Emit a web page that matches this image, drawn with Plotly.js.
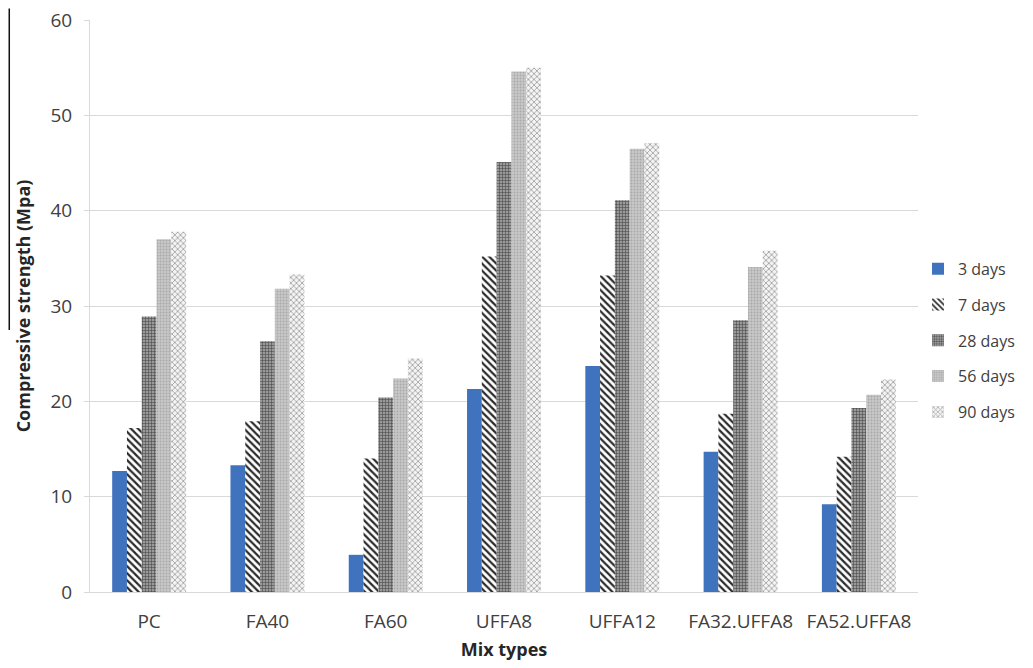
<!DOCTYPE html>
<html>
<head>
<meta charset="utf-8">
<script src="https://cdn.plot.ly/plotly-3.0.1.min.js"></script>
<style>
  html, body { margin: 0; padding: 0; background: #fff; }
  #chart { width: 1033px; height: 668px; }
</style>
</head>
<body>
<div id="chart"></div>
<script>
// Compressive strength (MPa) of each mix at five curing ages
const mixTypes = ["PC", "FA40", "FA60", "UFFA8", "UFFA12", "FA32.UFFA8", "FA52.UFFA8"];
const days3  = [12.7, 13.3, 3.9, 21.3, 23.7, 14.7, 9.2];
const days7  = [17.2, 17.9, 14.0, 35.2, 33.2, 18.7, 14.2];
const days28 = [28.9, 26.3, 20.4, 45.1, 41.1, 28.5, 19.3];
const days56 = [37.0, 31.8, 22.4, 54.6, 46.5, 34.1, 20.7];
const days90 = [37.8, 33.3, 24.5, 55.0, 47.1, 35.8, 22.3];
const seriesNames = ["3 days", "7 days", "28 days", "56 days", "90 days"];

const series = [days3, days7, days28, days56, days90];

// Fill style per curing age: solid blue, then hatched / textured greys
const fills = [
  { color: "#3f73bd", pattern: { shape: "" } },
  { color: "#ffffff", pattern: { shape: "\\", fgcolor: "#2b2b2b", bgcolor: "#ffffff", size: 5, solidity: 0.45, fillmode: "replace" } },
  { color: "#8a8a8a", pattern: { shape: "+", fgcolor: "#4a4a4a", bgcolor: "#9a9a9a", size: 3, solidity: 0.35, fillmode: "replace" } },
  { color: "#c2c2c2", pattern: { shape: ".", fgcolor: "#a8a8a8", bgcolor: "#c8c8c8", size: 3, solidity: 0.3, fillmode: "replace" } },
  { color: "#ffffff", pattern: { shape: "x", fgcolor: "#a6a6a6", bgcolor: "#f4f4f4", size: 4, solidity: 0.4, fillmode: "replace" } }
];

const traces = series.map((vals, i) => ({
  type: "bar",
  name: seriesNames[i],
  x: mixTypes,
  y: vals,
  legendgroup: "g" + i,
  marker: {
    color: fills[i].color,
    pattern: fills[i].pattern,
    line: { width: 0 }
  },
  hoverinfo: "x+y+name"
}));

const fontFam = "'Open Sans', 'Noto Sans', 'Liberation Sans', sans-serif";

const layout = {
  width: 1033,
  height: 668,
  margin: { l: 90, r: 115, t: 20, b: 76 },
  paper_bgcolor: "#ffffff",
  plot_bgcolor: "#ffffff",
  barmode: "group",
  bargap: 0.375,
  bargroupgap: 0,
  font: { family: fontFam, color: "#404040" },
  showlegend: true,
  legend: {
    x: 1.0, xanchor: "left",
    y: 0.44, yanchor: "middle",
    itemwidth: 30,
    font: { size: 16, color: "#404040", family: fontFam },
    traceorder: "grouped",
    tracegroupgap: 12,
    bgcolor: "rgba(0,0,0,0)"
  },
  xaxis: {
    type: "category",
    showline: true,
    linecolor: "#d9d9d9",
    linewidth: 1,
    ticks: "",
    ticklabelstandoff: 12,
    tickfont: { size: 19, color: "#404040", family: fontFam },
    title: { text: "<b>Mix types</b>", font: { size: 18, color: "#262626", family: fontFam }, standoff: 10 }
  },
  yaxis: {
    range: [0, 60],
    dtick: 10,
    showgrid: true,
    gridcolor: "#d9d9d9",
    gridwidth: 1,
    zeroline: false,
    showline: true,
    linecolor: "#d9d9d9",
    ticks: "outside",
    ticklen: 5,
    tickcolor: "#d9d9d9",
    ticklabelstandoff: 8,
    tickfont: { size: 19, color: "#404040", family: fontFam },
    title: { text: "<b>Compressive strength (Mpa)</b>", font: { size: 18, color: "#262626", family: fontFam }, standoff: 15 }
  },
  shapes: [
    {
      type: "line", xref: "paper", yref: "paper",
      x0: -0.0975, x1: -0.0975, y0: 1.02, y1: 0.458,
      line: { color: "#111111", width: 1.5 }
    }
  ]
};

Plotly.newPlot("chart", traces, layout, { displayModeBar: false, staticPlot: true });
</script>
</body>
</html>
